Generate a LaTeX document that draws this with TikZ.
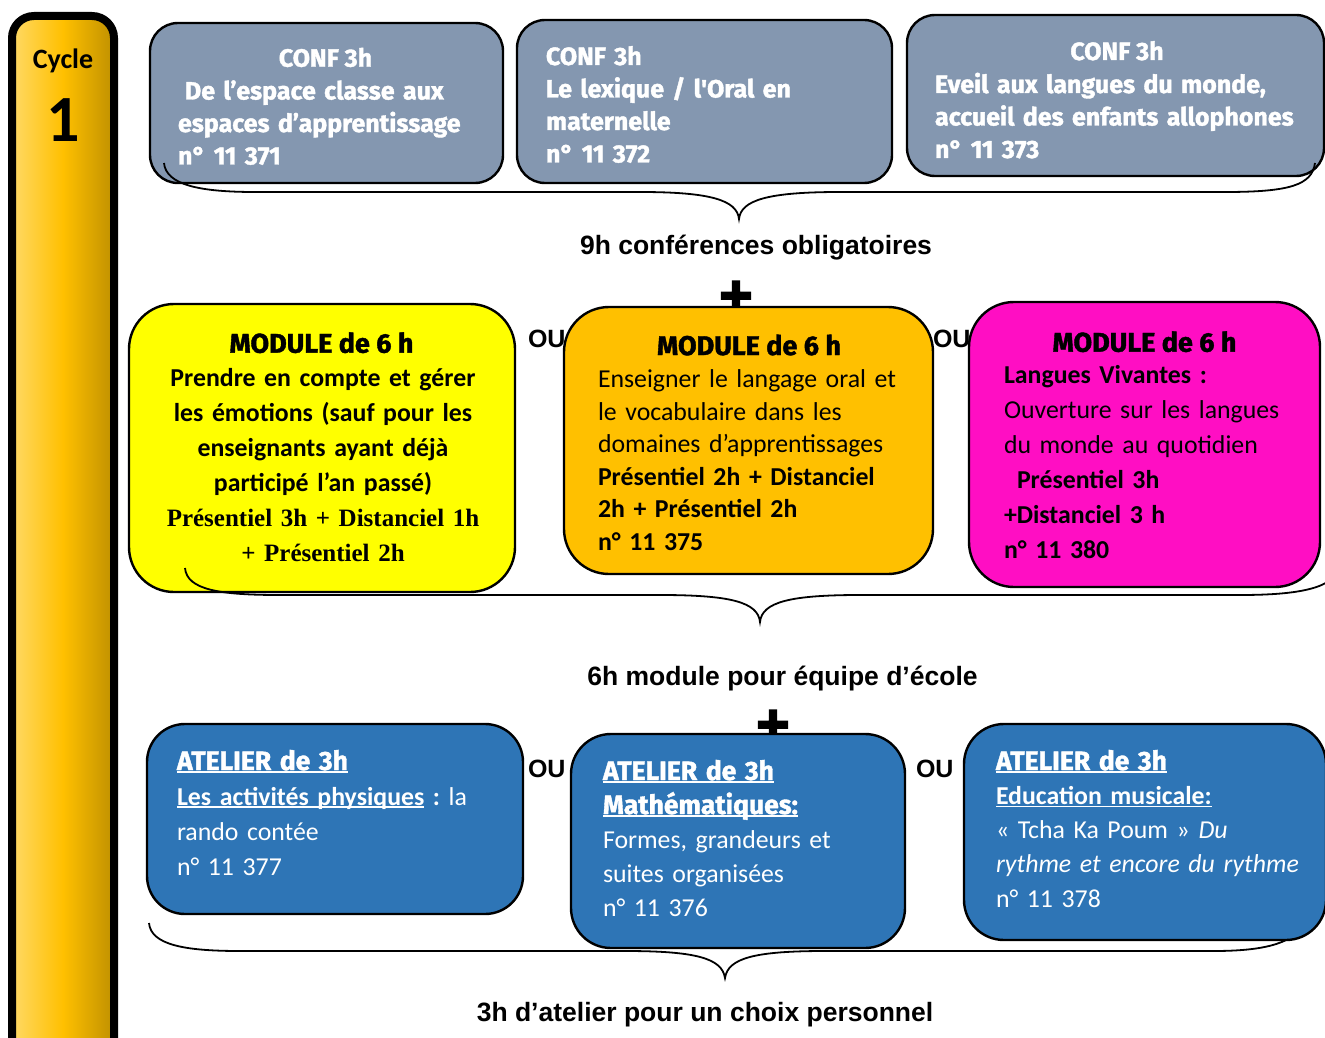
\documentclass[tikz,border=0pt]{standalone}
\usepackage{fontspec}
\setmainfont{Carlito}
\newfontfamily\hfont{Fira Sans}[BoldFeatures={FakeBold=1.5}]
\newfontfamily\capfont{Liberation Sans}
\newfontfamily\serfont{Liberation Serif}
\newfontfamily\plusfont{Liberation Sans}[FakeBold=4]
\definecolor{confc}{HTML}{8497B0}
\definecolor{yel}{HTML}{FFFF00}
\definecolor{ora}{HTML}{FFC000}
\definecolor{pnk}{HTML}{FF0EC3}
\definecolor{blu}{HTML}{2E75B6}
\definecolor{barL}{HTML}{FFD966}
\definecolor{barM}{HTML}{FFC000}
\definecolor{barR}{HTML}{BF9000}
\newcommand\myul[1]{\leavevmode\setbox0\hbox{#1}\rlap{\rule[-3pt]{\wd0}{1.8pt}}\box0\relax}
\tikzset{
  x=1pt, y=-1pt,
  every node/.style={outer sep=0pt},
  box/.style={draw=black, line width=2.4pt, rounded corners=#1, inner sep=0pt, anchor=north west},
  body/.style={inner sep=0pt, align=left, anchor=base west, text width=420pt},
  conftxt/.style={inner sep=0pt, text=white, font=\hfont\bfseries\fontsize{25}{32.5}\selectfont},
  headtxt/.style={inner sep=0pt, anchor=base, font=\hfont\bfseries\fontsize{27}{30}\selectfont},
  captxt/.style={inner sep=0pt, anchor=base, font=\capfont\bfseries\fontsize{26.5}{30}\selectfont},
  outxt/.style={inner sep=0pt, anchor=base west, font=\capfont\bfseries\fontsize{25}{30}\selectfont},
  plustxt/.style={inner sep=0pt, anchor=center, font=\plusfont\bfseries\fontsize{56}{60}\selectfont},
  brace/.style={draw=black, line width=1.8pt},
}
\begin{document}
\frenchspacing
\begin{tikzpicture}
\useasboundingbox (0,0) rectangle (1325,1038);
\fill[white] (0,0) rectangle (1325,1038);

% left bar
\node[draw=black, line width=8pt, rounded corners=22pt, inner sep=0pt, anchor=north west,
      left color=barL, right color=barR, middle color=barM,
      minimum width=102pt, minimum height=1060pt] (bar) at (12,16) {};
\node[inner sep=0pt, anchor=base, font=\bfseries\fontsize{28}{30}\selectfont] (cycle) at (63,69) {Cycle};
\node[inner sep=0pt, anchor=base, font=\bfseries\fontsize{66}{70}\selectfont] (one) at (63.5,142) {1};

% conference boxes
\node[box=28pt, fill=confc, minimum width=353pt, minimum height=160pt] (conf1) at (150,23) {};
\node[box=28pt, fill=confc, minimum width=375pt, minimum height=163pt] (conf2) at (517,20) {};
\node[box=28pt, fill=confc, minimum width=417pt, minimum height=161pt] (conf3) at (907,15) {};

\node[conftxt, anchor=base] (conf1h) at (325.5,66.7) {CONF 3h};
\node[conftxt, body] (conf1b) at (178,99.5) {\hspace*{7pt}De l’espace classe aux\\espaces d’apprentissage\\n° 11 371};
\node[conftxt, body] (conf2b) at (546,65) {CONF 3h\\Le lexique / l\textquotesingle Oral en\\maternelle\\n° 11 372};
\node[conftxt, anchor=base] (conf3h) at (1117,60) {CONF 3h};
\node[conftxt, body] (conf3b) at (935,93) {Eveil aux langues du monde,\\accueil des enfants allophones\\n° 11 373};

% brace 1
\draw[brace] (164,163) .. controls (166,185) and (200,192) .. (255,192) -- (640,192)
  .. controls (710,192) and (737,200) .. (739,219)
  .. controls (741,200) and (768,192) .. (840,192) -- (1225,192)
  .. controls (1290,192) and (1312,185) .. (1315,163);
\node[captxt] (cap1) at (756,254.3) {9h conférences obligatoires};

% plus and OU row 2
\node[plustxt] (plus1) at (736,298) {+};
\node[outxt] (ou1) at (528,347) {OU};
\node[outxt] (ou2) at (933,347) {OU};

% module boxes
\node[box=45pt, fill=yel, minimum width=386pt, minimum height=288pt] (mod1) at (129,304) {};
\node[box=45pt, fill=ora, minimum width=369pt, minimum height=267pt] (mod2) at (564,307) {};
\node[box=45pt, fill=pnk, minimum width=351pt, minimum height=285pt] (mod3) at (969,302) {};

\node[headtxt] (mod1h) at (321.5,352.7) {MODULE de 6 h};
\node[inner sep=0pt, anchor=base, align=center, text width=380pt,
      font=\bfseries\fontsize{25.8}{35}\selectfont] (mod1b) at (323,386.7)
  {Prendre en compte et gérer\\les émotions (sauf pour les\\enseignants ayant déjà\\participé l’an passé)\\
   {\serfont\fontsize{25}{35}\selectfont Présentiel 3h + Distanciel 1h}\\
   {\serfont\fontsize{25}{35}\selectfont + Présentiel 2h}};

\node[headtxt] (mod2h) at (749,355) {MODULE de 6 h};
\node[body, font=\fontsize{25.8}{32.5}\selectfont] (mod2b) at (598,387.7)
  {Enseigner le langage oral et\\le vocabulaire dans les\\domaines d’apprentissages\\
   \textbf{Présentiel 2h + Distanciel}\\\textbf{2h + Présentiel 2h}\\\textbf{n° 11 375}};

\node[headtxt] (mod3h) at (1144.5,351.7) {MODULE de 6 h};
\node[body, font=\fontsize{25.8}{35}\selectfont] (mod3b) at (1004,383)
  {\textbf{Langues Vivantes :}\\Ouverture sur les langues\\du monde au quotidien\\
   \hspace*{13pt}\textbf{Présentiel 3h}\\\textbf{+Distanciel 3 h}\\\textbf{n° 11 380}};

% brace 2
\draw[brace] (185,568) .. controls (187,590) and (220,595) .. (280,595) -- (660,595)
  .. controls (730,595) and (758,602) .. (760,622)
  .. controls (762,602) and (790,595) .. (860,595) -- (1240,595)
  .. controls (1300,595) and (1335,588) .. (1340,566);
\node[captxt] (cap2) at (782.5,685) {6h module pour équipe d’école};

% plus and OU row 3
\node[plustxt] (plus2) at (773,727) {+};
\node[outxt] (ou3) at (528,777) {OU};
\node[outxt] (ou4) at (916,777) {OU};

% brace 3
\draw[brace] (149,923) .. controls (151,945) and (185,951) .. (240,951) -- (625,951)
  .. controls (695,951) and (722,958) .. (725,978)
  .. controls (728,958) and (755,951) .. (825,951) -- (1213,951)
  .. controls (1260,951) and (1290,945) .. (1305,925);
\node[captxt] (cap3) at (705,1021.7) {3h d’atelier pour un choix personnel};

% atelier boxes
\node[box=38pt, fill=blu, minimum width=376pt, minimum height=190pt] (at1) at (147,724) {};
\node[box=40pt, fill=blu, minimum width=334pt, minimum height=214pt] (at2) at (571,734) {};
\node[box=40pt, fill=blu, minimum width=362pt, minimum height=216pt] (at3) at (964,724) {};

\node[body, text=white, font=\fontsize{25.8}{35}\selectfont] (at1b) at (177,770)
  {{\hfont\bfseries\fontsize{26.5}{35}\selectfont\myul{ATELIER de 3h}}\\
   \textbf{\myul{Les activités physiques} :} la\\rando contée\\n° 11 377};
\node[body, text=white, font=\fontsize{25.8}{34}\selectfont] (at2b) at (603,780)
  {{\hfont\bfseries\fontsize{26.5}{34}\selectfont\myul{ATELIER de 3h}}\\
   {\hfont\bfseries\fontsize{26.5}{34}\selectfont\myul{Mathématiques:}}\\
   Formes, grandeurs et\\suites organisées\\n° 11 376};
\node[body, text=white, font=\fontsize{25.8}{34.3}\selectfont] (at3b) at (996,770)
  {{\hfont\bfseries\fontsize{26.5}{34.3}\selectfont\myul{ATELIER de 3h}}\\
   \textbf{\myul{Education musicale:}}\\
   « Tcha Ka Poum » \textit{Du}\\\textit{rythme et encore du rythme}\\n° 11 378};
\end{tikzpicture}
\end{document}
